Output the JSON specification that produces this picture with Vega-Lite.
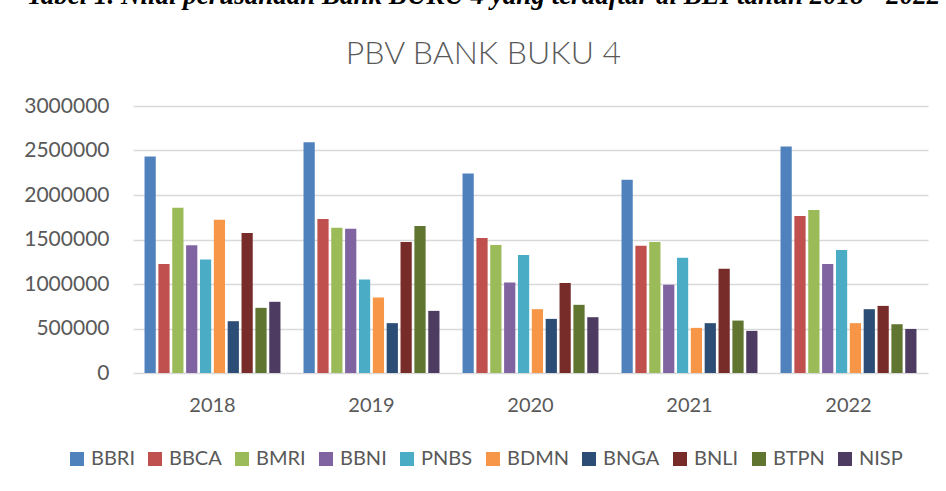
{
  "$schema": "https://vega.github.io/schema/vega-lite/v6.json",
  "autosize": {"type": "none"},
  "width": 795,
  "height": 267,
  "padding": {"left": 133, "top": 106, "right": 18, "bottom": 118},
  "background": "#ffffff",
  "title": {
    "text": "Tabel 1. Nilai perusahaan Bank BUKU 4 yang terdaftar di BEI tahun 2018 - 2022",
    "subtitle": "PBV BANK BUKU 4",
    "anchor": "middle",
    "frame": "group",
    "dx": -47,
    "offset": 24,
    "font": "Liberation Serif",
    "fontSize": 27,
    "fontStyle": "italic",
    "fontWeight": "bold",
    "color": "#000000",
    "subtitleFont": "Lato",
    "subtitleFontSize": 32,
    "subtitleFontWeight": 300,
    "subtitleColor": "#595959",
    "subtitlePadding": 29
  },
  "data": {
    "values": [
      {"year": "2018", "bank": "BBRI", "value": 2432000},
      {"year": "2018", "bank": "BBCA", "value": 1224000},
      {"year": "2018", "bank": "BMRI", "value": 1858000},
      {"year": "2018", "bank": "BBNI", "value": 1434000},
      {"year": "2018", "bank": "PNBS", "value": 1276000},
      {"year": "2018", "bank": "BDMN", "value": 1723000},
      {"year": "2018", "bank": "BNGA", "value": 582000},
      {"year": "2018", "bank": "BNLI", "value": 1573000},
      {"year": "2018", "bank": "BTPN", "value": 732000},
      {"year": "2018", "bank": "NISP", "value": 800000},
      {"year": "2019", "bank": "BBRI", "value": 2594000},
      {"year": "2019", "bank": "BBCA", "value": 1731000},
      {"year": "2019", "bank": "BMRI", "value": 1633000},
      {"year": "2019", "bank": "BBNI", "value": 1622000},
      {"year": "2019", "bank": "PNBS", "value": 1051000},
      {"year": "2019", "bank": "BDMN", "value": 848000},
      {"year": "2019", "bank": "BNGA", "value": 560000},
      {"year": "2019", "bank": "BNLI", "value": 1471000},
      {"year": "2019", "bank": "BTPN", "value": 1652000},
      {"year": "2019", "bank": "NISP", "value": 698000},
      {"year": "2020", "bank": "BBRI", "value": 2241000},
      {"year": "2020", "bank": "BBCA", "value": 1517000},
      {"year": "2020", "bank": "BMRI", "value": 1438000},
      {"year": "2020", "bank": "BBNI", "value": 1017000},
      {"year": "2020", "bank": "PNBS", "value": 1325000},
      {"year": "2020", "bank": "BDMN", "value": 717000},
      {"year": "2020", "bank": "BNGA", "value": 608000},
      {"year": "2020", "bank": "BNLI", "value": 1010000},
      {"year": "2020", "bank": "BTPN", "value": 766000},
      {"year": "2020", "bank": "NISP", "value": 627000},
      {"year": "2021", "bank": "BBRI", "value": 2170000},
      {"year": "2021", "bank": "BBCA", "value": 1430000},
      {"year": "2021", "bank": "BMRI", "value": 1471000},
      {"year": "2021", "bank": "BBNI", "value": 991000},
      {"year": "2021", "bank": "PNBS", "value": 1295000},
      {"year": "2021", "bank": "BDMN", "value": 507000},
      {"year": "2021", "bank": "BNGA", "value": 560000},
      {"year": "2021", "bank": "BNLI", "value": 1171000},
      {"year": "2021", "bank": "BTPN", "value": 589000},
      {"year": "2021", "bank": "NISP", "value": 473000},
      {"year": "2022", "bank": "BBRI", "value": 2545000},
      {"year": "2022", "bank": "BBCA", "value": 1764000},
      {"year": "2022", "bank": "BMRI", "value": 1832000},
      {"year": "2022", "bank": "BBNI", "value": 1224000},
      {"year": "2022", "bank": "PNBS", "value": 1381000},
      {"year": "2022", "bank": "BDMN", "value": 560000},
      {"year": "2022", "bank": "BNGA", "value": 717000},
      {"year": "2022", "bank": "BNLI", "value": 754000},
      {"year": "2022", "bank": "BTPN", "value": 548000},
      {"year": "2022", "bank": "NISP", "value": 495000}
    ]
  },
  "mark": {"type": "bar"},
  "encoding": {
    "x": {
      "field": "year",
      "type": "nominal",
      "scale": {"paddingInner": 0.145, "paddingOuter": 0.0725},
      "axis": {
        "title": null,
        "labelAngle": 0,
        "labelFont": "Lato",
        "labelFontSize": 20,
        "labelColor": "#595959",
        "labelPadding": 22,
        "ticks": false,
        "domain": false
      }
    },
    "xOffset": {
      "field": "bank",
      "type": "nominal",
      "sort": ["BBRI", "BBCA", "BMRI", "BBNI", "PNBS", "BDMN", "BNGA", "BNLI", "BTPN", "NISP"],
      "scale": {"paddingInner": 0.19, "paddingOuter": 0}
    },
    "y": {
      "field": "value",
      "type": "quantitative",
      "scale": {"domain": [0, 3000000], "nice": false},
      "axis": {
        "title": null,
        "values": [0, 500000, 1000000, 1500000, 2000000, 2500000, 3000000],
        "format": "d",
        "labelFont": "Lato",
        "labelFontSize": 21,
        "labelColor": "#595959",
        "labelPadding": 24,
        "ticks": false,
        "domain": false,
        "grid": true,
        "gridColor": "#d9d9d9",
        "gridWidth": 1.5
      }
    },
    "color": {
      "field": "bank",
      "type": "nominal",
      "sort": ["BBRI", "BBCA", "BMRI", "BBNI", "PNBS", "BDMN", "BNGA", "BNLI", "BTPN", "NISP"],
      "scale": {
        "domain": ["BBRI", "BBCA", "BMRI", "BBNI", "PNBS", "BDMN", "BNGA", "BNLI", "BTPN", "NISP"],
        "range": ["#4F81BD", "#C0504D", "#9BBB59", "#8064A2", "#4BACC6", "#F79646", "#2C4D75", "#772C2A", "#5F7530", "#4D3B62"]
      },
      "legend": {
        "title": null,
        "orient": "none",
        "direction": "horizontal",
        "columns": 10,
        "legendX": -66,
        "legendY": 343,
        "symbolType": "square",
        "symbolSize": 196,
        "symbolStrokeWidth": 0,
        "labelFont": "Lato",
        "labelFontSize": 20,
        "labelColor": "#595959",
        "labelOffset": 4,
        "columnPadding": 10
      }
    }
  },
  "config": {
    "view": {"stroke": null}
  }
}
